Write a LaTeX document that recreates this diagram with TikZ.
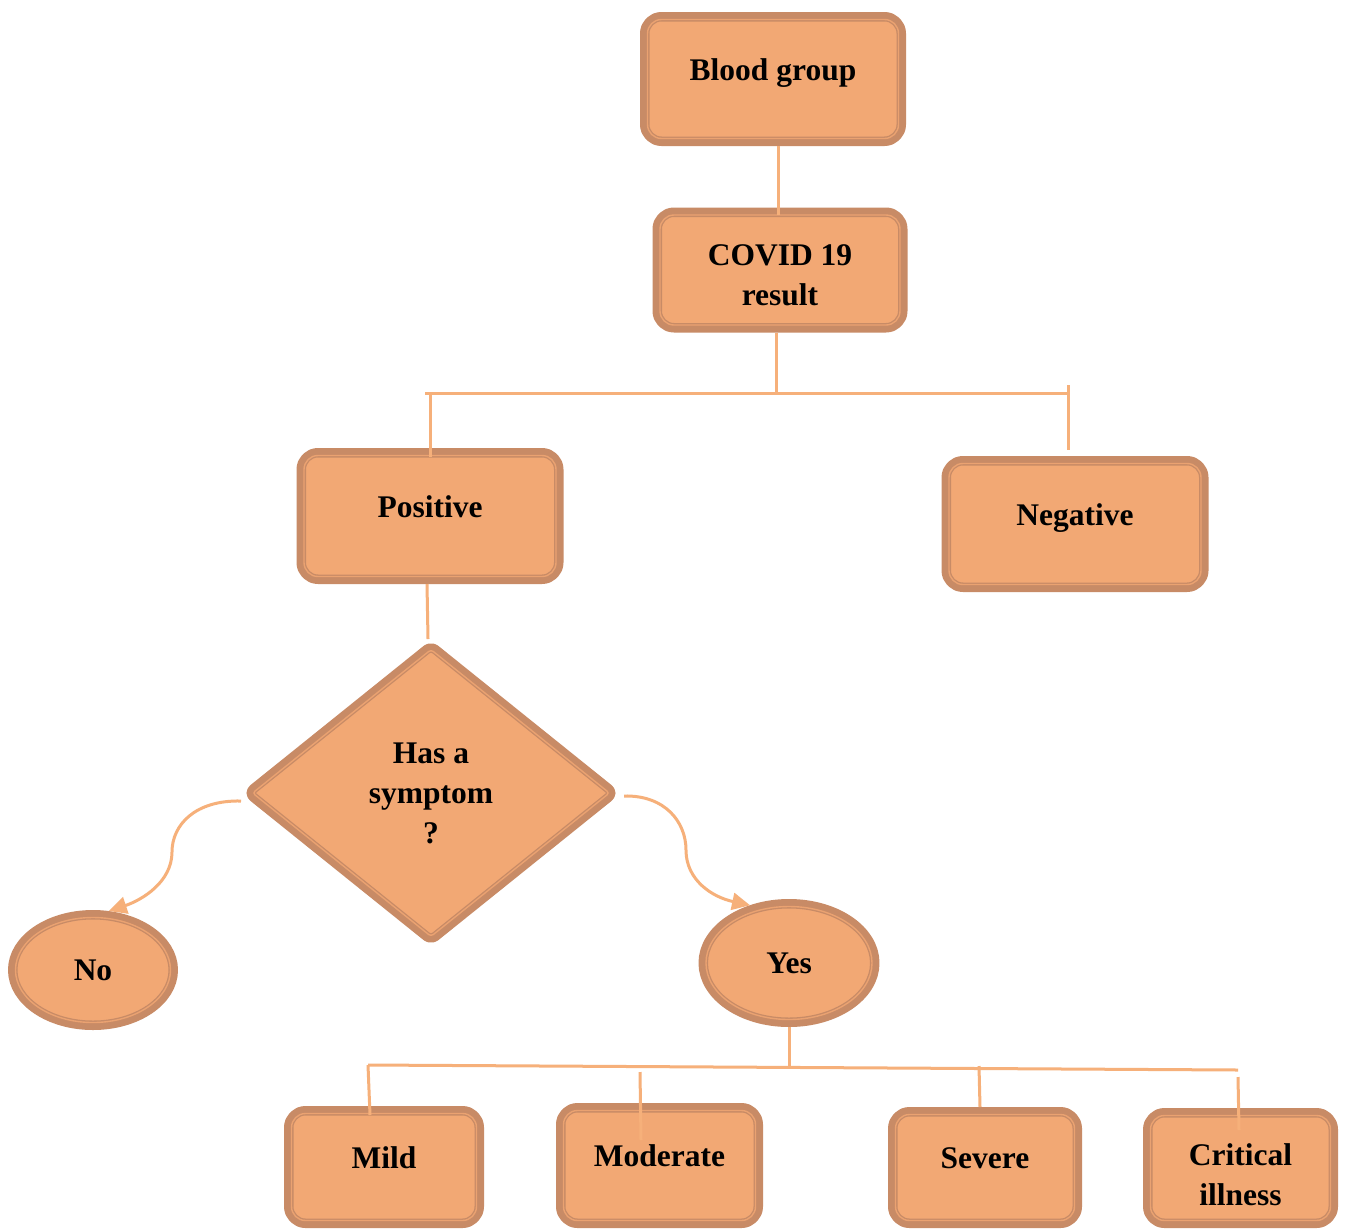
\documentclass[tikz,border=0pt]{standalone}
\usepackage{fontspec}
\setmainfont{Liberation Serif}
\usetikzlibrary{shapes.geometric,arrows.meta,calc}
\definecolor{boxfill}{HTML}{F2A874}
\definecolor{boxline}{HTML}{C88B66}
\definecolor{conncol}{HTML}{F6B07A}
\newcommand\twolines[2]{\parbox[t]{160pt}{\centering #1\\#2}}
\begin{document}
\begin{tikzpicture}[x=1pt,y=-1pt,
  shp/.style={fill=boxfill, draw=boxline, line width=1.3pt,
    double=boxfill!80!boxline, double distance=1.4pt,
    preaction={draw=boxline, line width=15pt, line join=round},
    outer sep=7.5pt, inner sep=0pt, align=center,
    font=\fontsize{31.5}{40}\selectfont\bfseries},
  rbox/.style={shp, rectangle, rounded corners=14pt},
  oneline/.style={text height=21pt, text depth=19pt},
  twoline/.style={text height=0pt, text depth=#1},
  dmd/.style={shp, diamond, rounded corners=3pt},
  ell/.style={shp, ellipse},
  conn/.style={draw=conncol, line width=3pt},
  arr/.style={conn, -{Triangle[length=18pt,width=17pt]}}]
\useasboundingbox (0,0) rectangle (1349,1229);
\fill[white] (0,0) rectangle (1349,1229);

% nodes
\node[rbox, oneline, minimum width=251, minimum height=119] (bg) at (773,79) {Blood group};
\node[rbox, twoline=9.2pt, minimum width=240, minimum height=110] (covid) at (780,270) {\twolines{COVID 19}{result}};
\node[rbox, oneline, minimum width=252, minimum height=121] (pos) at (430,516) {Positive};
\node[rbox, oneline, minimum width=252, minimum height=121] (neg) at (1075,524) {Negative};
\node[dmd, minimum width=363, minimum height=293] (dia) at (431,793) {Has a\\symptom\\?};
\node[ell, minimum width=155, minimum height=105] (no) at (93,970) {No};
\node[ell, minimum width=166, minimum height=113] (yes) at (789,963) {Yes};
\node[rbox, oneline, minimum width=185, minimum height=107] (mild) at (384,1167) {Mild};
\node[rbox, oneline, minimum width=192, minimum height=110] (mod) at (659.5,1165.5) {Moderate};
\node[rbox, oneline, minimum width=179, minimum height=106] (sev) at (985,1167.5) {Severe};
\node[rbox, twoline=5.2pt, minimum width=180, minimum height=105] (crit) at (1240.5,1168) {\twolines{Critical}{illness}};

% junction coordinates
\coordinate (tL) at (425,393);
\coordinate (tR) at (1068,393);
\coordinate (bL) at (368,1065);
\coordinate (bR) at (1238,1070);
\coordinate (sNo) at ($(dia.west)+(-1,8)$);
\coordinate (sYes) at ($(dia.east)+(4,3)$);

% connectors
\draw[conn] ([xshift=5]bg.south) -- ([xshift=5,yshift=-7]bg.south |- covid.north);
\draw[conn] ([xshift=-4]covid.south) -- ([xshift=-4]covid.south |- tL);
\draw[conn] (tL) -- (tR);
\draw[conn] (pos.north |- tL) -- ([yshift=-9]pos.north);
\draw[conn] ([yshift=8]tR) -- ([yshift=6]tR |- neg.north);
\draw[conn] ([xshift=-3]pos.south) -- ([xshift=-3]dia.north);

\draw[arr] (sNo) .. controls (195,800) and (172,825) .. (172,852)
  .. controls (172,882) and (142,900) .. (no.75);
\draw[arr] (sYes) .. controls (665,795) and (686,822) .. (686,850)
  .. controls (686,880) and (712,897) .. (yes.124);

\draw[conn] (yes.south) -- (yes.south |- 0,1067);
\draw[conn] (bL) -- (bR);
\draw[conn] (bL) -- ([xshift=2,yshift=-9]bL |- mild.north);
\draw[conn] (640,1072) -- ([yshift=-37]mod.north -| 641,0);
\draw[conn] (979,1066) -- (sev.north -| 980,0);
\draw[conn] ([yshift=-7]bR) -- ([yshift=-22]crit.north -| 1239,0);
\end{tikzpicture}
\end{document}
